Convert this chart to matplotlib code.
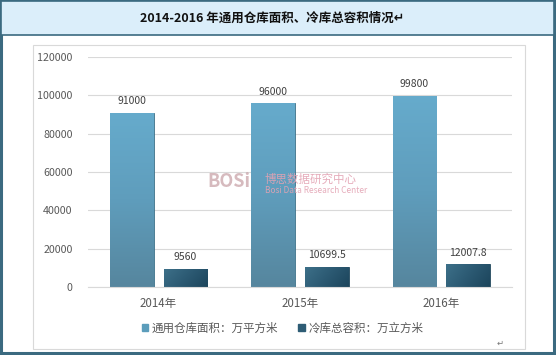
import matplotlib.pyplot as plt
import numpy as np
from matplotlib.patches import Rectangle
from matplotlib.colors import LinearSegmentedColormap

plt.rcParams['font.family'] = ['Noto Sans CJK SC', 'DejaVu Sans']

years = ['2014年', '2015年', '2016年']
warehouse = [91000, 96000, 99800]
cold = [9560, 10699.5, 12007.8]
warehouse_lbl = ['91000', '96000', '99800']
cold_lbl = ['9560', '10699.5', '12007.8']
series_names = ['通用仓库面积：万平方米', '冷库总容积：万立方米']

fig = plt.figure(figsize=(5.56, 3.55), dpi=100)

# outer frame, title band, chart box
fig.patches.append(Rectangle((0.002, 0.006), 0.995, 0.99, transform=fig.transFigure,
                             facecolor='white', edgecolor='#3b6a80', lw=2.2, zorder=-3))
fig.patches.append(Rectangle((0.002, 0.901), 0.995, 0.095, transform=fig.transFigure,
                             facecolor='#dbeefa', edgecolor='#3b6a80', lw=1.2, zorder=-2))
fig.patches.append(Rectangle((0.059, 0.017), 0.885, 0.856, transform=fig.transFigure,
                             facecolor='white', edgecolor='#d9d9d9', lw=0.8, zorder=-1))

fig.text(0.49, 0.949, '2014-2016 年通用仓库面积、冷库总容积情况↵', ha='center', va='center',
         fontsize=9.0, fontweight='bold', color='#111111')
fig.text(0.9, 0.033, '↵', ha='center', va='center', fontsize=6, color='#777777')

ax = fig.add_axes([0.158, 0.1915, 0.763, 0.648])
ax.set_facecolor('none')
x = np.arange(len(years))
w = 0.31
off = 0.19
b1 = ax.bar(x - off, warehouse, w, color='#5b9dbb', edgecolor='#3f7189', lw=0.6, zorder=2)
b2 = ax.bar(x + off, cold, w, color='#2e5c75', edgecolor='#24495d', lw=0.6, zorder=2)

cm1 = LinearSegmentedColormap.from_list('c1', ['#56869e', '#5f9dbc', '#66abcc'])
cm2 = LinearSegmentedColormap.from_list('c2', ['#3d7089', '#2c5a73', '#1c455c'])
grad_v = np.linspace(0, 1, 100).reshape(-1, 1)
gx, gy = np.meshgrid(np.linspace(0, 1, 50), np.linspace(0, 1, 50))
grad_d = (gx + (1 - gy) * 0.4) / 1.4
for bars, cmap, g in ((b1, cm1, grad_v), (b2, cm2, grad_d)):
    for p in bars:
        x0, y0 = p.get_x(), p.get_y()
        im = ax.imshow(g, cmap=cmap, origin='lower', aspect='auto',
                       extent=(x0, x0 + p.get_width(), y0, y0 + p.get_height()), zorder=2.5)
        im.set_clip_path(p)

for i in range(len(years)):
    ax.text(x[i] - off, warehouse[i] + 3300, warehouse_lbl[i], ha='center', va='bottom',
            fontsize=7.5, color='#404040')
    ax.text(x[i] + off, cold[i] + 3300, cold_lbl[i], ha='center', va='bottom',
            fontsize=7.5, color='#404040')

ax.set_xlim(-0.5, 2.5)
ax.set_ylim(0, 120000)
ax.set_yticks(np.arange(0, 120001, 20000))
ax.yaxis.grid(True, color='#d9d9d9', lw=0.8, zorder=0)
ax.set_axisbelow(True)
ax.set_xticks(x)
ax.set_xticklabels(years)
ax.tick_params(axis='both', length=0, colors='#595959')
ax.tick_params(axis='x', pad=7, labelsize=8.3)
ax.tick_params(axis='y', pad=11, labelsize=7.7)
for s in ['top', 'right', 'left']:
    ax.spines[s].set_visible(False)
ax.spines['bottom'].set_color('#d9d9d9')

# watermark
fig.text(0.373, 0.489, 'BOSi', fontsize=13, fontweight='bold', color='#c9a3a8', alpha=0.75,
         ha='left', va='center', zorder=5)
fig.text(0.476, 0.494, '博思数据研究中心', fontsize=8.3, color='#e3a3b3', alpha=0.9,
         ha='left', va='center', zorder=5)
fig.text(0.476, 0.462, 'Bosi Data Research Center', fontsize=6, color='#e3a3b3', alpha=0.9,
         ha='left', va='center', zorder=5)

# legend
handles = [Rectangle((0, 0), 1, 1, color='#5b9dbb'), Rectangle((0, 0), 1, 1, color='#2e5c75')]
fig.legend(handles, series_names, loc='center', bbox_to_anchor=(0.508, 0.076), ncol=2,
           frameon=False, fontsize=8.3, labelcolor='#595959', handlelength=0.6, handleheight=0.6,
           handletextpad=0.3, columnspacing=1.7)

fig.savefig('out.png', dpi=100)
